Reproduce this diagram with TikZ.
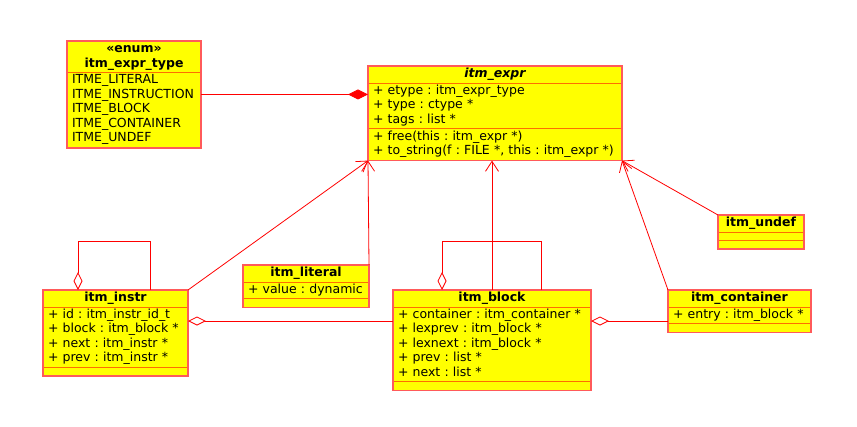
\documentclass[tikz,border=0pt]{standalone}
\usepackage{fontspec}
\setmainfont{DejaVu Sans}
\frenchspacing
\usetikzlibrary{shapes.multipart, arrows.meta, positioning}
\definecolor{classfill}{RGB}{255,255,0}
\definecolor{classline}{RGB}{255,90,90}
\definecolor{splitline}{RGB}{255,110,0}
\definecolor{linkred}{RGB}{255,0,0}
\newcommand\classhead[1]{\hbox to\hsize{\hfil\bfseries #1\hfil}}
\tikzstyle{umlclass} = [rectangle split, rectangle split parts=3, draw=splitline, line width=1pt, fill=classfill, anchor=north west,
  inner xsep=4.5pt, inner ysep=0.6pt,
  rectangle split empty part height=6pt, rectangle split empty part depth=0pt,
  execute at begin node=\noindent\strut, execute at end node=\unskip\strut,
  font=\fontsize{12.5}{14.5}\selectfont]
\tikzstyle{classborder} = [draw=classline, line width=1.5pt]
\tikzstyle{generalize} = [draw=linkred, line width=0.8pt, -{Straight Barb[length=10pt,width=13pt]}]
\tikzstyle{aggregate} = [draw=linkred, line width=0.8pt, -{Diamond[open,length=18pt,width=9pt]}]
\tikzstyle{compose} = [draw=linkred, line width=0.8pt, -{Diamond[length=20pt,width=10pt]}]

\begin{document}
\begin{tikzpicture}[x=1pt, y=-1pt]
\useasboundingbox (0,0) rectangle (857,426);
% Placement of class nodes
\node (exprType) [umlclass, rectangle split parts=2, text width=124pt] at (67,41) {\classhead{«enum»}\break\classhead{itm\_expr\_type}
  \nodepart{two}ITME\_LITERAL\\ITME\_INSTRUCTION\\ITME\_BLOCK\\ITME\_CONTAINER\\ITME\_UNDEF};
\node (expr) [umlclass, text width=244pt] at (368,66) {\classhead{\itshape itm\_expr}
  \nodepart{two}+ etype : itm\_expr\_type\\+ type : ctype *\\+ tags : list *
  \nodepart{three}+ free(this : itm\_expr *)\\+ to\_string(f : FILE *, this : itm\_expr *)};
\node (undef) [umlclass, text width=76pt] at (718,215) {\classhead{itm\_undef}};
\node (literal) [umlclass, text width=116pt] at (243,265) {\classhead{itm\_literal}
  \nodepart{two}+ value : dynamic};
\node (instr) [umlclass, text width=135pt] at (43,290) {\classhead{itm\_instr}
  \nodepart{two}+ id : itm\_instr\_id\_t\\+ block : itm\_block *\\+ next : itm\_instr *\\+ prev : itm\_instr *};
\node (block) [umlclass, text width=188pt] at (393,290) {\classhead{itm\_block}
  \nodepart{two}+ container : itm\_container *\\+ lexprev : itm\_block *\\+ lexnext : itm\_block *\\+ prev : list *\\+ next : list *};
\node (container) [umlclass, text width=133pt] at (668,290) {\classhead{itm\_container}
  \nodepart{two}+ entry : itm\_block *};

% Outer borders of the classes
\foreach \cls in {exprType, expr, undef, literal, instr, block, container}
  \draw [classborder] (\cls.north west) rectangle (\cls.south east);

% Drawing of inheritance lines
\draw [generalize] (instr.north east) -- (expr.south west);
\draw [generalize] (literal.north east) -- (expr.south west);
\draw [generalize] (block.north) -- (block.north |- expr.south);
\draw [generalize] (container.north west) -- (expr.south east);
\draw [generalize] (undef.north west) -- (expr.south east);

% Composition and aggregation lines
\draw [compose] (exprType.east) -- (exprType.east -| expr.west);
\draw [aggregate] ([yshift=-31pt]block.north west) -- ([yshift=-31pt]instr.north east);
\draw [aggregate] ([yshift=-31pt]container.north west) -- ([yshift=-31pt]block.north east);
\draw [aggregate] ([xshift=107pt]instr.north west) -- ++(0,49pt) -| ([xshift=35pt]instr.north west);
\draw [aggregate] ([xshift=148pt]block.north west) -- ++(0,49pt) -| ([xshift=49pt]block.north west);
\end{tikzpicture}
\end{document}
